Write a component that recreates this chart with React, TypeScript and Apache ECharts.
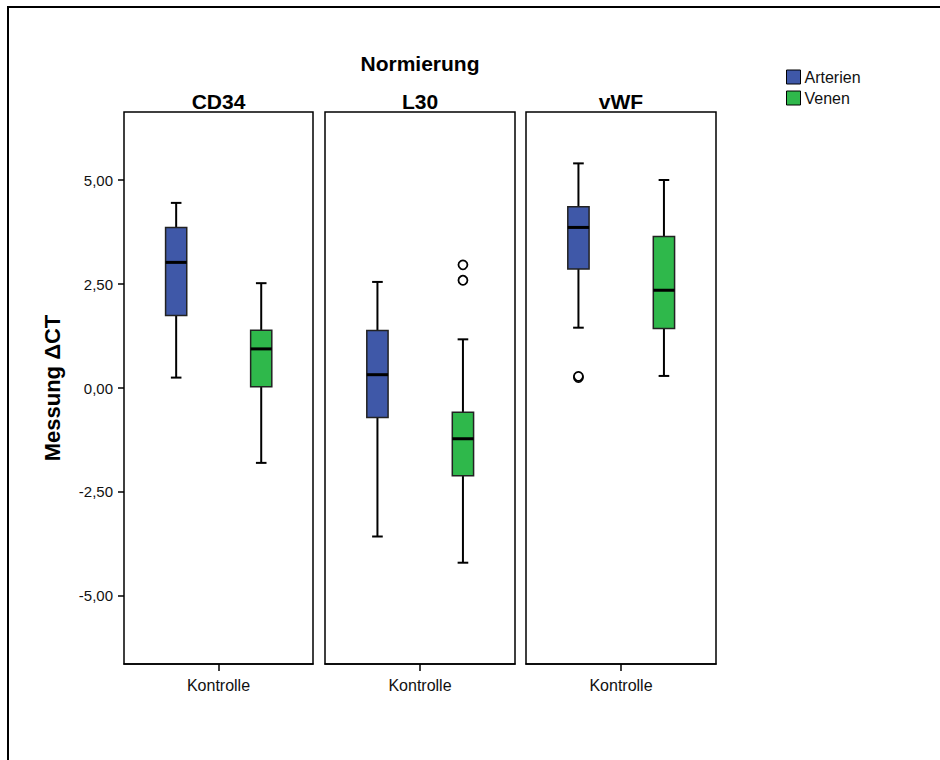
import React, { useEffect, useRef } from "react";
import * as echarts from "echarts";

// ---- data ----
const panels = ["CD34", "L30", "vWF"];
const categories = ["Kontrolle"];
const groups = ["Arterien", "Venen"];
// [min, Q1, median, Q3, max] per panel
const arterienStats = [
  [0.25, 1.74, 3.02, 3.86, 4.45],
  [-3.57, -0.71, 0.32, 1.38, 2.55],
  [1.45, 2.86, 3.86, 4.36, 5.4],
];
const venenStats = [
  [-1.8, 0.03, 0.94, 1.39, 2.52],
  [-4.2, -2.11, -1.22, -0.58, 1.17],
  [0.29, 1.43, 2.35, 3.64, 5.0],
];
const arterienOutliers = [[], [], [0.25, 0.28]];
const venenOutliers = [[], [2.59, 2.96], []];
const yTicks = [-5, -2.5, 0, 2.5, 5];
const yMin = -6.635;
const yMax = 6.635;

const FONT = "'Liberation Sans', Arial, sans-serif";
const COLORS = ["#3f58a8", "#2fb84b"];
const OFFSETS = [-0.224, 0.226];

const gridBoxes = [
  { left: 124, width: 189 },
  { left: 325, width: 190 },
  { left: 526, width: 190 },
];
const GRID_TOP = 112;
const GRID_H = 552;

function makeBoxRender(offset: number, color: string) {
  return (_params: any, api: any) => {
    const cat = api.value(0);
    const v = [1, 2, 3, 4, 5].map((i) => api.value(i));
    const band = api.size([1, 0])[0];
    const cx = api.coord([cat, v[2]])[0] + offset * band;
    const y = (val: number) => api.coord([cat, val])[1];
    const half = band * 0.056;
    const cap = band * 0.028;
    const black = { stroke: "#000", lineWidth: 2 };
    return {
      type: "group",
      children: [
        { type: "line", shape: { x1: cx, y1: y(v[0]), x2: cx, y2: y(v[1]) }, style: black },
        { type: "line", shape: { x1: cx, y1: y(v[3]), x2: cx, y2: y(v[4]) }, style: black },
        { type: "line", shape: { x1: cx - cap, y1: y(v[0]), x2: cx + cap, y2: y(v[0]) }, style: black },
        { type: "line", shape: { x1: cx - cap, y1: y(v[4]), x2: cx + cap, y2: y(v[4]) }, style: black },
        {
          type: "rect",
          shape: { x: cx - half, y: y(v[3]), width: half * 2, height: y(v[1]) - y(v[3]) },
          style: { fill: color, stroke: "#222", lineWidth: 1.5 },
        },
        {
          type: "line",
          shape: { x1: cx - half, y1: y(v[2]), x2: cx + half, y2: y(v[2]) },
          style: { stroke: "#000", lineWidth: 3 },
        },
      ],
    };
  };
}

function makeOutlierRender(offset: number) {
  return (_params: any, api: any) => {
    const cat = api.value(0);
    const val = api.value(1);
    const band = api.size([1, 0])[0];
    const p = api.coord([cat, val]);
    return {
      type: "circle",
      shape: { cx: p[0] + offset * band, cy: p[1], r: 4.5 },
      style: { fill: "#fff", stroke: "#000", lineWidth: 1.8 },
    };
  };
}

export default function App() {
  const ref = useRef<HTMLDivElement>(null);

  useEffect(() => {
    document.body.style.margin = "0";
    if (!ref.current) return;
    const chart = echarts.init(ref.current, null, { renderer: "svg" });

    const grids = gridBoxes.map((g) => ({
      left: g.left,
      width: g.width,
      top: GRID_TOP,
      height: GRID_H,
      show: true,
      borderColor: "#000",
      borderWidth: 1.5,
      backgroundColor: "transparent",
    }));

    const xAxes = panels.map((_, i) => ({
      type: "category",
      gridIndex: i,
      data: categories,
      axisLine: { show: true, onZero: false, lineStyle: { color: "#000", width: 1.5 } },
      axisTick: { show: true, alignWithLabel: true, length: 7, lineStyle: { color: "#000", width: 1.5 } },
      axisLabel: { color: "#111", fontSize: 16, fontFamily: FONT, margin: 13 },
      splitLine: { show: false },
    }));

    const yAxes = panels.map((_, i) => ({
      type: "value",
      gridIndex: i,
      min: yMin,
      max: yMax,
      name: i === 0 ? "Messung \u0394CT" : "",
      nameLocation: "middle",
      nameRotate: 90,
      nameGap: 61,
      nameTextStyle: { fontSize: 22, fontWeight: "bold", color: "#000", fontFamily: FONT },
      axisLine: { show: false },
      axisTick: {
        show: i === 0,
        length: 6,
        customValues: yTicks,
        lineStyle: { color: "#000", width: 1.5 },
      },
      axisLabel: {
        show: i === 0,
        customValues: yTicks,
        margin: 11,
        color: "#111",
        fontSize: 15,
        fontFamily: FONT,
        formatter: (v: number) => v.toFixed(2).replace(".", ","),
      },
      splitLine: { show: false },
    }));

    const series: any[] = [];
    const statsByGroup = [arterienStats, venenStats];
    const outByGroup = [arterienOutliers, venenOutliers];
    panels.forEach((_, pi) => {
      groups.forEach((gname, gi) => {
        series.push({
          type: "custom",
          name: gname,
          xAxisIndex: pi,
          yAxisIndex: pi,
          itemStyle: { color: COLORS[gi] },
          encode: { x: 0, y: [1, 2, 3, 4, 5] },
          renderItem: makeBoxRender(OFFSETS[gi], COLORS[gi]),
          data: [[0, ...statsByGroup[gi][pi]]],
          silent: true,
        });
        if (outByGroup[gi][pi].length) {
          series.push({
            type: "custom",
            name: gname,
            xAxisIndex: pi,
            yAxisIndex: pi,
            itemStyle: { color: COLORS[gi] },
            encode: { x: 0, y: 1 },
            renderItem: makeOutlierRender(OFFSETS[gi]),
            data: outByGroup[gi][pi].map((v) => [0, v]),
            silent: true,
          });
        }
      });
    });

    const titleTexts = panels.map((p, i) => ({
      type: "text",
      x: gridBoxes[i].left + gridBoxes[i].width / 2,
      y: 101,
      style: {
        text: p,
        font: `bold 21px ${FONT}`,
        fill: "#000",
        textAlign: "center",
        textVerticalAlign: "middle",
      },
    }));

    chart.setOption({
      animation: false,
      backgroundColor: "#fff",
      grid: grids,
      xAxis: xAxes,
      yAxis: yAxes,
      legend: {
        left: 781,
        top: 64,
        orient: "vertical",
        itemWidth: 14,
        itemHeight: 14,
        itemGap: 5,
        icon: "rect",
        data: groups.map((g, i) => ({
          name: g,
          itemStyle: { color: COLORS[i], borderColor: "#000", borderWidth: 1 },
        })),
        textStyle: { fontSize: 16, fontFamily: FONT, color: "#111", padding: [0, 0, 0, -1] },
        selectedMode: false,
      },
      graphic: [
        {
          type: "rect",
          shape: { x: 8, y: 7, width: 1200, height: 1200 },
          style: { fill: "none", stroke: "#000", lineWidth: 2 },
          silent: true,
        },
        {
          type: "text",
          x: 420,
          y: 63,
          style: {
            text: "Normierung",
            font: `bold 21px ${FONT}`,
            fill: "#000",
            textAlign: "center",
            textVerticalAlign: "middle",
          },
        },
        ...titleTexts,
      ],
      series,
    });

    return () => chart.dispose();
  }, []);

  return <div ref={ref} style={{ width: 940, height: 760 }} />;
}
